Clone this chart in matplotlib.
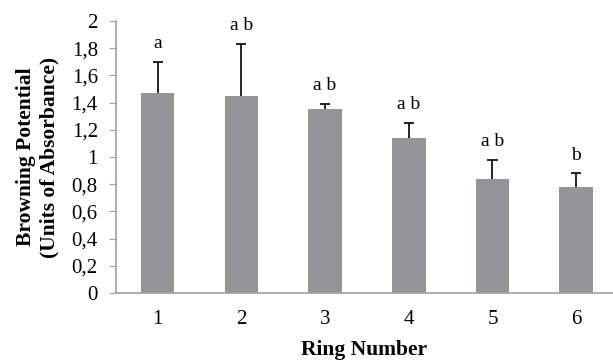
import numpy as np
import matplotlib.pyplot as plt
import matplotlib.ticker as mticker

rings = [1, 2, 3, 4, 5, 6]
means = [1.47, 1.45, 1.35, 1.14, 0.84, 0.78]
errors = [0.23, 0.38, 0.04, 0.11, 0.14, 0.10]
letters = ["a", "a b", "a b", "a b", "a b", "b"]
yticks = [0, 0.2, 0.4, 0.6, 0.8, 1, 1.2, 1.4, 1.6, 1.8, 2]

plt.rcParams["font.family"] = ["Liberation Serif", "DejaVu Serif"]

fig = plt.figure(figsize=(6.13, 3.6), dpi=100)
ax = fig.add_axes([0.189, 0.186, 0.811, 0.756])

x = np.array(rings, dtype=float)
tops = np.array(means) + np.array(errors)
ax.bar(x, means, width=0.4, color="#939598", zorder=2)
# upper-only error bars
ax.vlines(x, means, tops, color="black", linewidth=1.2, zorder=3)
ax.hlines(tops, x - 0.06, x + 0.06, color="black", linewidth=1.2, zorder=3)

for xi, t, lab in zip(x, tops, letters):
    ax.annotate(lab, (xi, t), xytext=(0, 7), textcoords="offset points",
                ha="center", va="bottom", fontsize=14)

ax.set_xlim(0.5, 6.44)
ax.set_ylim(0, 2)
ax.set_xticks(x)
ax.set_xticklabels([str(r) for r in rings])
ax.set_yticks(yticks)
ax.yaxis.set_major_formatter(mticker.FuncFormatter(
    lambda v, p: f"{v:g}".replace(".", ",")))

for s in ["top", "right"]:
    ax.spines[s].set_visible(False)
for s in ["left", "bottom"]:
    ax.spines[s].set_color("#a0a0a0")
    ax.spines[s].set_linewidth(1.2)

ax.tick_params(axis="y", direction="out", length=5, color="#a0a0a0",
               labelsize=15, pad=8)
ax.tick_params(axis="x", length=0, labelsize=15, pad=12)

ax.set_xlabel("Ring Number", fontsize=15.5, fontweight="bold", labelpad=8)
ax.set_ylabel("Browning Potential\n(Units of Absorbance)", fontsize=15.5,
              fontweight="bold", labelpad=9, linespacing=1.2)

plt.savefig("out.png", dpi=100)
